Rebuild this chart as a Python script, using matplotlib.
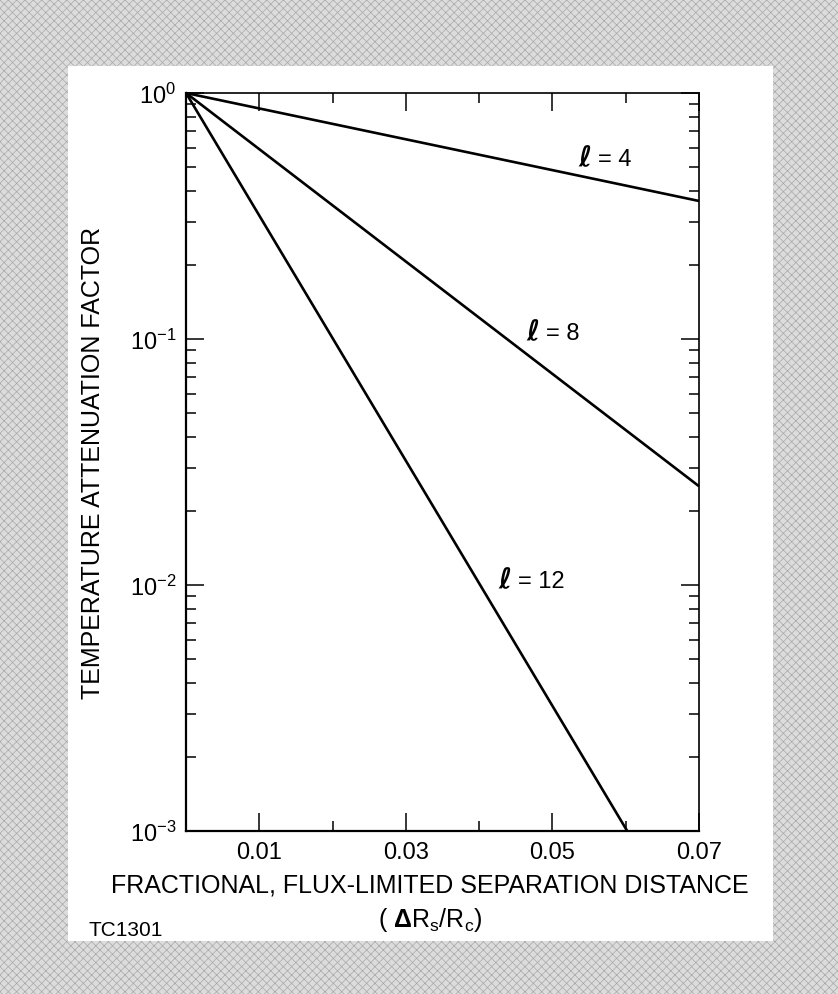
import numpy as np
import matplotlib.pyplot as plt
from matplotlib.patches import Rectangle
from matplotlib.ticker import FixedLocator, NullFormatter, LogLocator, LogFormatterSciNotation

plt.rcParams['font.family'] = 'Liberation Sans'
plt.rcParams['mathtext.fontset'] = 'custom'
plt.rcParams['mathtext.rm'] = 'Liberation Sans'
plt.rcParams['mathtext.it'] = 'Liberation Sans:italic'
plt.rcParams['mathtext.bf'] = 'Liberation Sans:bold'
plt.rcParams['hatch.linewidth'] = 0.5

# harmonic order of each curve
ell = [4, 8, 12]
# end points (straight lines on the semilog axes)
x_start = [0.0, 0.0, 0.0]
y_start = [1.0, 1.0, 1.0]
x_end = [0.07, 0.07, 0.0602]
y_end = [0.364, 0.0252, 1e-3]

x_major = [0.01, 0.03, 0.05, 0.07]
x_minor = [0.02, 0.04, 0.06]
x_ticklabels = ['0.01', '0.03', '0.05', '0.07']

fig = plt.figure(figsize=(8.38, 9.95), dpi=100)

# grey halftone-like border with the white sheet on top
fig.patches.append(Rectangle((0, 0), 1, 1, transform=fig.transFigure,
                             facecolor='#dcdcdc', edgecolor='#a8a8a8',
                             hatch='xxxx', lw=0, zorder=-3))
fig.patches.append(Rectangle((0.081, 0.0533), 0.841, 0.8794, transform=fig.transFigure,
                             facecolor='white', edgecolor='none', zorder=-2))

ax = fig.add_axes([0.222, 0.1638, 0.6122, 0.7417])
ax.set_yscale('log')
ax.set_xlim(0, 0.07)
ax.set_ylim(1e-3, 1)

for i in range(len(ell)):
    ax.plot([x_start[i], x_end[i]], [y_start[i], y_end[i]], color='black', lw=1.9,
            solid_capstyle='butt', clip_on=False)

# curve labels (baseline position in data coords)
lab_pos = [(0.0535, 0.51), (0.0465, 0.1), (0.0426, 0.0098)]
for n, (lx, ly) in zip(ell, lab_pos):
    ax.text(lx, ly, '\u2113', fontsize=20, fontweight='bold', fontstyle='oblique',
            family=['DejaVu Sans', 'DejaVu Serif', 'Noto Sans'], va='baseline', ha='left')
    ax.annotate('= %d' % n, xy=(lx, ly), xytext=(14, 0), textcoords='offset points',
                fontsize=17, va='baseline', ha='left')

# ticks
ax.xaxis.set_major_locator(FixedLocator(x_major))
ax.xaxis.set_minor_locator(FixedLocator(x_minor))
ax.set_xticklabels(x_ticklabels)
ax.yaxis.set_major_locator(LogLocator(base=10))
ax.yaxis.set_major_formatter(LogFormatterSciNotation())
ax.yaxis.set_minor_locator(LogLocator(base=10, subs=np.arange(2, 10)))
ax.yaxis.set_minor_formatter(NullFormatter())
ax.tick_params(which='major', direction='in', length=13, width=1.1,
               top=True, right=True, labelsize=17, pad=7)
ax.tick_params(which='minor', direction='in', length=7, width=1.1,
               top=True, right=True)

for s in ['left', 'bottom']:
    ax.spines[s].set_linewidth(1.6)
for s in ['top', 'right']:
    ax.spines[s].set_linewidth(1.2)

# axis titles
fig.text(93 / 838, 1 - 463 / 995, 'TEMPERATURE ATTENUATION FACTOR', rotation=90,
         fontsize=18, ha='center', va='center')
fig.text(430 / 838, 1 - 893 / 995, 'FRACTIONAL, FLUX-LIMITED SEPARATION DISTANCE',
         fontsize=18, ha='center', va='baseline')
fig.text(430 / 838, 1 - 927 / 995, r'( $\mathbf{\Delta}$R$_\mathrm{s}$/R$_\mathrm{c}$)',
         fontsize=18, ha='center', va='baseline')
fig.text(88 / 838, 1 - 936 / 995, 'TC1301', fontsize=15, ha='left', va='baseline')

fig.savefig('out.png', dpi=100)
